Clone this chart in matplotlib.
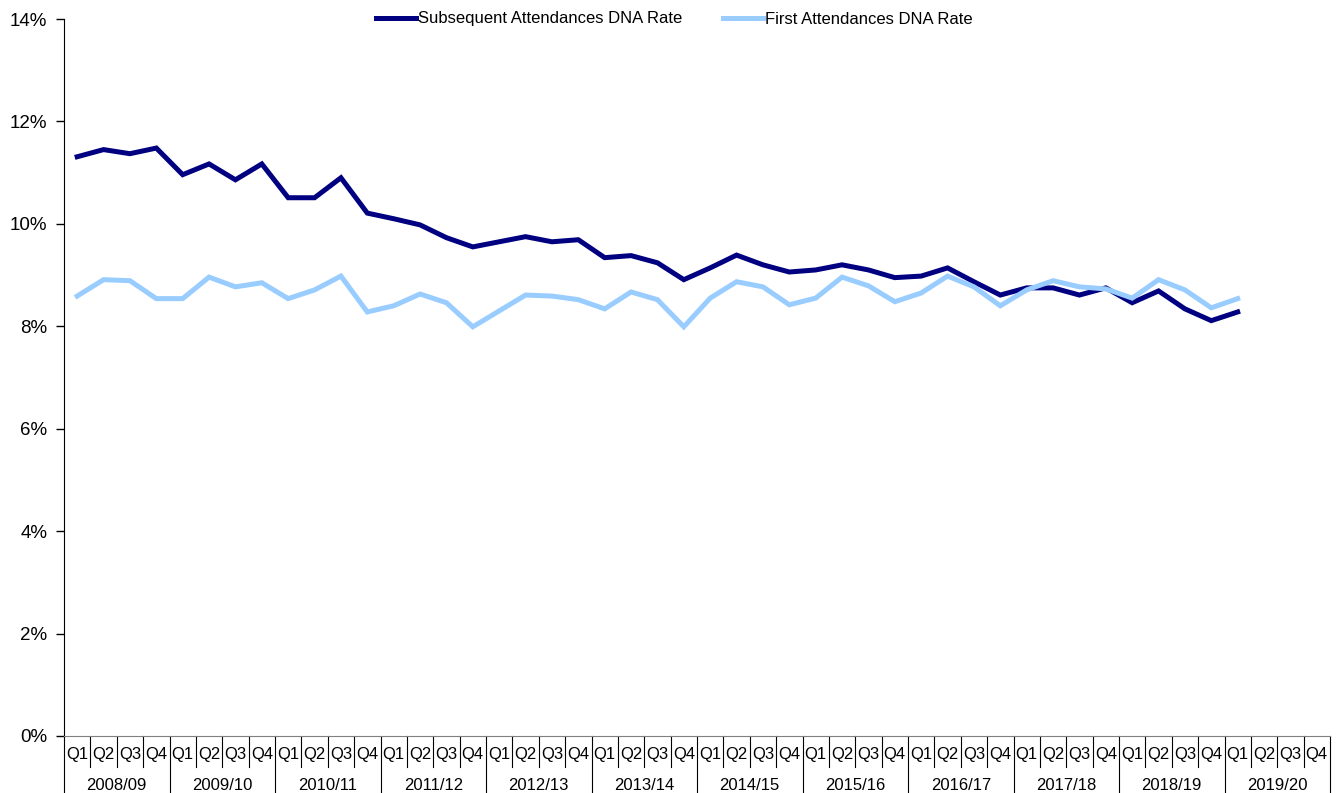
import matplotlib
matplotlib.use("Agg")
import matplotlib.pyplot as plt
import matplotlib.transforms as mtransforms
from matplotlib.ticker import FuncFormatter, MultipleLocator

plt.rcParams['font.family'] = ['Liberation Sans', 'DejaVu Sans']

# 年度と四半期
years = ["2008/09", "2009/10", "2010/11", "2011/12", "2012/13", "2013/14",
         "2014/15", "2015/16", "2016/17", "2017/18", "2018/19", "2019/20"]
quarters = ["Q1", "Q2", "Q3", "Q4"]

# DNA率 (%)
subsequent = [11.31, 11.45, 11.37, 11.48, 10.96, 11.17, 10.86, 11.17,
              10.51, 10.51, 10.90, 10.21, 10.10, 9.98, 9.73, 9.55,
              9.65, 9.75, 9.65, 9.69, 9.34, 9.38, 9.24, 8.91,
              9.14, 9.39, 9.20, 9.06, 9.10, 9.20, 9.10, 8.95,
              8.98, 9.14, 8.87, 8.61, 8.75, 8.75, 8.61, 8.75,
              8.46, 8.69, 8.34, 8.11, 8.28]
first = [8.59, 8.91, 8.89, 8.54, 8.54, 8.96, 8.77, 8.85,
         8.54, 8.71, 8.98, 8.28, 8.40, 8.63, 8.46, 7.99,
         8.30, 8.61, 8.59, 8.52, 8.34, 8.67, 8.52, 7.99,
         8.55, 8.87, 8.77, 8.42, 8.55, 8.96, 8.79, 8.48,
         8.65, 8.98, 8.77, 8.40, 8.71, 8.89, 8.77, 8.73,
         8.55, 8.91, 8.71, 8.36, 8.54]

n_cat = len(years) * len(quarters)

fig = plt.figure(figsize=(13.41, 7.93), dpi=100)
ax = fig.add_axes([64 / 1341, 57 / 793, (1330 - 64) / 1341, (736 - 19) / 793])

x_sub = list(range(len(subsequent)))
x_first = list(range(len(first)))
ax.plot(x_sub, subsequent, color="#000080", lw=3.6, solid_joinstyle="miter",
        label="Subsequent Attendances DNA Rate")
ax.plot(x_first, first, color="#99CCFF", lw=3.6, solid_joinstyle="miter",
        label="First Attendances DNA Rate")

ax.set_xlim(-0.5, n_cat - 0.5)
ax.set_ylim(0, 14)
ax.yaxis.set_major_locator(MultipleLocator(2))
ax.yaxis.set_major_formatter(FuncFormatter(lambda v, p: "%d%%" % v))
ax.tick_params(axis="y", labelsize=13.5, length=6, width=1, direction="out", pad=6)
ax.set_xticks([])

for s in ["top", "right"]:
    ax.spines[s].set_visible(False)
ax.spines["bottom"].set_color("#808080")
ax.spines["left"].set_color("black")

# カテゴリ軸（四半期・年度）
trans = mtransforms.blended_transform_factory(ax.transData, ax.transAxes)
h = 717
for i in range(n_cat + 1):
    xe = i - 0.5
    length = 57 / h if i % 4 == 0 else 31 / h
    ax.plot([xe, xe], [0, -length], transform=trans, color="black", lw=0.8, clip_on=False)
for i in range(n_cat):
    ax.text(i, -19 / h, quarters[i % 4], transform=trans, ha="center", va="center",
            fontsize=12)
for j, yr in enumerate(years):
    ax.text(j * 4 + 1.5, -49 / h, yr, transform=trans, ha="center", va="center",
            fontsize=12)

leg = ax.legend(loc="center", bbox_to_anchor=(0.482, 1.0), ncol=2, frameon=False,
                fontsize=12, handlelength=2.4, handletextpad=0.15, columnspacing=2.4)

plt.savefig("out.png", dpi=100)
